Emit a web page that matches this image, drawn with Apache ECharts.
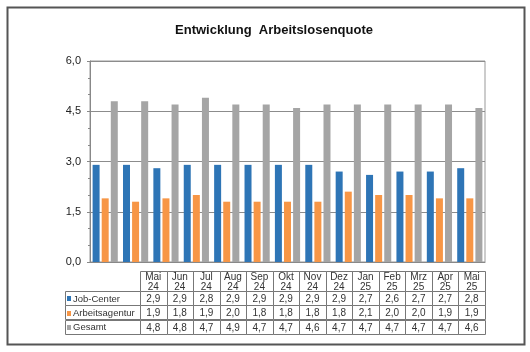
<!DOCTYPE html>
<html>
<head>
<meta charset="utf-8">
<script src="https://cdn.jsdelivr.net/npm/echarts@6/dist/echarts.min.js"></script>
<style>
  html, body { margin: 0; padding: 0; background: #fff; }
  #main { width: 530px; height: 352px; }
</style>
</head>
<body>
<div id="main"></div>
<script>
var months = ['Mai 24', 'Jun 24', 'Jul 24', 'Aug 24', 'Sep 24', 'Okt 24', 'Nov 24',
  'Dez 24', 'Jan 25', 'Feb 25', 'Mrz 25', 'Apr 25', 'Mai 25'];
var seriesNames = ['Job-Center', 'Arbeitsagentur', 'Gesamt'];
var jobCenter = [2.9, 2.9, 2.8, 2.9, 2.9, 2.9, 2.9, 2.9, 2.7, 2.6, 2.7, 2.7, 2.8];
var agentur = [1.9, 1.8, 1.9, 2.0, 1.8, 1.8, 1.8, 1.8, 2.1, 2.0, 2.0, 1.9, 1.9];
var gesamt = [4.8, 4.8, 4.7, 4.9, 4.7, 4.7, 4.6, 4.7, 4.7, 4.7, 4.7, 4.7, 4.6];
var yTicks = [0, 1.5, 3, 4.5, 6];

var colors = ['#2e75b6', '#f79646', '#a5a5a5'];
var allValues = [jobCenter, agentur, gesamt];
var font = 'Arial, "Liberation Sans", sans-serif';

function fmt(v) {
  return v.toFixed(1).replace('.', ',');
}

var chart = echarts.init(document.getElementById('main'), null, { renderer: 'canvas' });

// table cells: [col, row]
var cellData = [];
allValues.forEach(function (vals, r) {
  vals.forEach(function (v, c) {
    cellData.push([c, r, v]);
  });
});
var headData = months.map(function (m, c) { return [c, 0]; });
var rowData = seriesNames.map(function (n, r) { return [0, r]; });

var lineCol = '#777';
var textCol = '#333';
var tableFont = '10px ' + font;
var headH = 20;

function cellRect(x, y, w, h) {
  return {
    type: 'rect',
    shape: { x: Math.round(x) + 0.5, y: Math.round(y) + 0.5, width: Math.round(w), height: Math.round(h) },
    style: { fill: '#fff', stroke: lineCol, lineWidth: 1 }
  };
}

function renderCell(params, api) {
  var p = api.coord([api.value(0), api.value(1)]);
  var s = api.size([1, 1]);
  return {
    type: 'group',
    children: [
      cellRect(p[0] - s[0] / 2, p[1] - s[1] / 2, s[0], s[1]),
      { type: 'text', style: { text: fmt(api.value(2)), x: p[0], y: p[1] + 1, align: 'center', verticalAlign: 'middle', font: tableFont, fill: textCol } }
    ]
  };
}

function renderHead(params, api) {
  var c = api.value(0);
  var p = api.coord([c, 0]);
  var s = api.size([1, 1]);
  var top = p[1] - s[1] / 2;
  var parts = months[c].split(' ');
  return {
    type: 'group',
    children: [
      cellRect(p[0] - s[0] / 2, top - headH, s[0], headH),
      { type: 'text', style: { text: parts[0] + '\n' + parts[1], x: p[0], y: top - headH / 2 + 1, align: 'center', verticalAlign: 'middle', font: tableFont, fill: textCol, lineHeight: 10 } }
    ]
  };
}

function renderRowLabel(params, api) {
  var r = api.value(1);
  var p = api.coord([0, r]);
  var s = api.size([1, 1]);
  var left = p[0] - s[0] / 2;
  return {
    type: 'group',
    children: [
      cellRect(left - 75, p[1] - s[1] / 2, 75, s[1]),
      { type: 'rect', shape: { x: left - 73, y: Math.round(p[1]) - 2, width: 4, height: 5 }, style: { fill: colors[r] } },
      { type: 'text', style: { text: seriesNames[r], x: left - 67, y: p[1] + 1, align: 'left', verticalAlign: 'middle', font: '9.5px ' + font, fill: textCol } }
    ]
  };
}

var option = {
  backgroundColor: '#fff',
  animation: false,
  title: {
    text: 'Entwicklung  Arbeitslosenquote',
    left: 269,
    textAlign: 'center',
    top: 19,
    textStyle: { fontFamily: font, fontSize: 13, fontWeight: 'bold', color: '#111' }
  },
  grid: [
    { left: 90, right: 45, top: 61, height: 201, show: true, borderColor: '#999', borderWidth: 1, backgroundColor: 'transparent' },
    { left: 140, right: 45, top: 291, height: 43 }
  ],
  xAxis: [
    {
      gridIndex: 0, type: 'category', data: months,
      axisLine: { lineStyle: { color: '#888' } },
      axisTick: { show: false }, axisLabel: { show: false }
    },
    {
      gridIndex: 1, type: 'category', data: months, show: false
    }
  ],
  yAxis: [
    {
      gridIndex: 0, type: 'value', min: yTicks[0], max: yTicks[yTicks.length - 1], interval: 1.5,
      axisLine: { show: true, lineStyle: { color: '#888' } },
      axisTick: { show: true, length: 3, lineStyle: { color: '#888' } },
      minorTick: { show: true, splitNumber: 3, length: 2, lineStyle: { color: '#888' } },
      splitLine: { lineStyle: { color: '#8c8c8c', width: 1 } },
      axisLabel: { formatter: fmt, fontFamily: font, fontSize: 11, color: '#222', margin: 9 }
    },
    {
      gridIndex: 1, type: 'category', data: seriesNames, inverse: true, show: false
    }
  ],
  series: [
    { name: seriesNames[0], type: 'bar', data: jobCenter, barWidth: 7, barGap: '30%', itemStyle: { color: colors[0] } },
    { name: seriesNames[1], type: 'bar', data: agentur, barWidth: 7, barGap: '30%', itemStyle: { color: colors[1] } },
    { name: seriesNames[2], type: 'bar', data: gesamt, barWidth: 7, barGap: '30%', itemStyle: { color: colors[2] } },
    { type: 'custom', xAxisIndex: 1, yAxisIndex: 1, data: cellData, renderItem: renderCell, clip: false, silent: true },
    { type: 'custom', xAxisIndex: 1, yAxisIndex: 1, data: headData, renderItem: renderHead, clip: false, silent: true },
    { type: 'custom', xAxisIndex: 1, yAxisIndex: 1, data: rowData, renderItem: renderRowLabel, clip: false, silent: true }
  ],
  graphic: [
    {
      type: 'rect', left: 5, top: 5, silent: true,
      shape: { width: 517, height: 337 },
      style: { fill: 'none', stroke: '#555', lineWidth: 2 }
    }
  ]
};

chart.setOption(option);
</script>
</body>
</html>
